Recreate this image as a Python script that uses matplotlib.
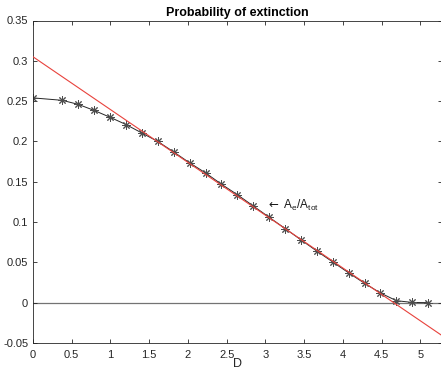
import numpy as np
import matplotlib
matplotlib.use("Agg")
import matplotlib.pyplot as plt

# probability of extinction vs D
D = [0.0, 0.378, 0.583, 0.789, 0.994, 1.200, 1.405, 1.610, 1.816, 2.021,
     2.227, 2.432, 2.637, 2.843, 3.048, 3.254, 3.459, 3.664, 3.870, 4.075,
     4.281, 4.486, 4.691, 4.897, 5.102]
P = [0.254, 0.251, 0.246, 0.2385, 0.230, 0.221, 0.2105, 0.200, 0.187, 0.1735,
     0.161, 0.147, 0.134, 0.120, 0.106, 0.092, 0.078, 0.064, 0.0505, 0.037,
     0.024, 0.012, 0.0025, 0.0003, 0.0]

# red reference line (A_e/A_tot)
line_x = [0.0, 5.3]
line_y = [0.305, -0.0421]

xticks = [0, 0.5, 1, 1.5, 2, 2.5, 3, 3.5, 4, 4.5, 5]
xticklabels = ["0", "0.5", "1", "1.5", "2", "2.5", "3", "3.5", "4", "4.5", "5"]
yticks = [-0.05, 0, 0.05, 0.1, 0.15, 0.2, 0.25, 0.3, 0.35]
yticklabels = ["-0.05", "0", "0.05", "0.1", "0.15", "0.2", "0.25", "0.3", "0.35"]

plt.rcParams['font.family'] = ['Liberation Sans', 'DejaVu Sans']

fig = plt.figure(figsize=(4.41, 3.70), dpi=100)
ax = fig.add_axes([33 / 441, 27 / 370, 409 / 441, 322.5 / 370])

ax.axhline(0, color='0.45', lw=0.9, zorder=1)
ax.plot(line_x, line_y, color='#e8423c', lw=0.8, zorder=3)
ax.plot(D, P, color='0.15', lw=0.7, zorder=2)
# matlab style asterisk markers
ax.plot(D, P, ls='none', marker=(8, 2, 0), markersize=6,
        markeredgewidth=0.7, markeredgecolor='0.3', zorder=2.5)

ax.text(3.01, 0.1205, r"$\leftarrow$ A$_\mathregular{e}$/A$_\mathregular{tot}$",
        fontsize=8.5, va='center', ha='left', color='0.1')

ax.set_xlim(0, 5.28)
ax.set_ylim(-0.05, 0.35)
ax.set_xticks(xticks)
ax.set_xticklabels(xticklabels)
ax.set_yticks(yticks)
ax.set_yticklabels(yticklabels)
ax.tick_params(direction='in', top=True, right=True, labelsize=8,
               colors='0.15', length=3, width=0.6)
ax.tick_params(axis='x', pad=5)
for s in ax.spines.values():
    s.set_color('0.15')
    s.set_linewidth(0.6)

ax.set_xlabel("D", fontsize=9, color='0.15', labelpad=-1.5)
ax.set_title("Probability of extinction", fontsize=9, fontweight='bold', pad=3)

fig.savefig("out.png", dpi=100)
